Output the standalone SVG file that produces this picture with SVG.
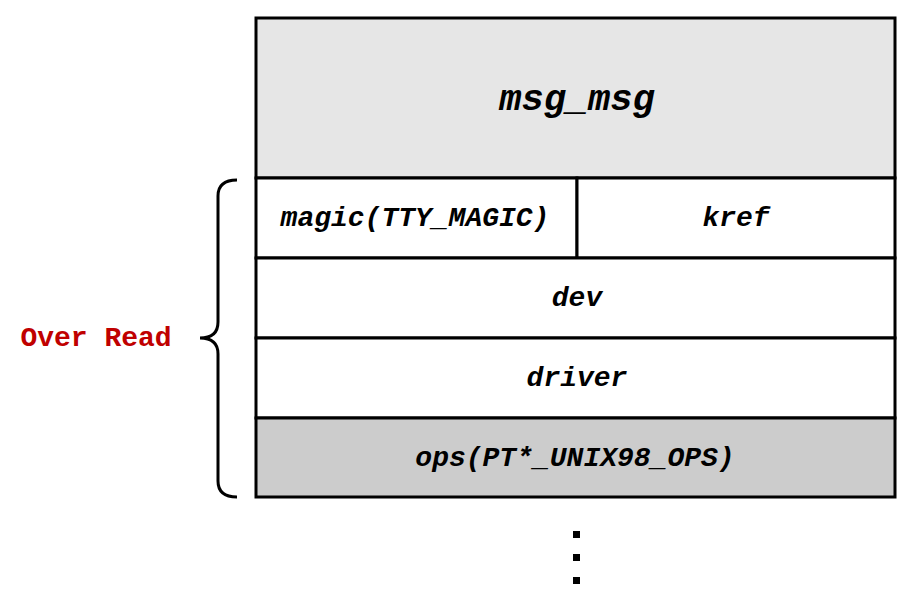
<svg xmlns="http://www.w3.org/2000/svg" width="915" height="608" viewBox="0 0 915 608">
<style>
.box{stroke:#000;stroke-width:3}
.t{font-family:"Liberation Mono","Courier New",monospace;font-weight:bold;font-style:italic;font-size:28px;fill:#000;text-anchor:middle;dominant-baseline:central}
.title{font-size:37px}
.red{fill:#c00000;font-style:normal}
</style>
<rect width="915" height="608" fill="#fff"/>
<g id="msg_msg"><rect class="box" x="256" y="18" width="639" height="160" fill="#e6e6e6"/><text class="t title" x="577" y="100">msg_msg</text></g>
<g id="magic"><rect class="box" x="256" y="178" width="321" height="80" fill="#fff"/><text class="t" x="415" y="218">magic(TTY_MAGIC)</text></g>
<g id="kref"><rect class="box" x="577" y="178" width="318" height="80" fill="#fff"/><text class="t" x="736" y="218">kref</text></g>
<g id="dev"><rect class="box" x="256" y="258" width="639" height="80" fill="#fff"/><text class="t" x="577" y="298">dev</text></g>
<g id="driver"><rect class="box" x="256" y="338" width="639" height="80" fill="#fff"/><text class="t" x="577" y="378">driver</text></g>
<g id="ops"><rect class="box" x="256" y="418" width="639" height="79" fill="#cccccc"/><text class="t" x="575" y="458">ops(PT*_UNIX98_OPS)</text></g>
<g id="overread">
<path d="M237 180 Q218 180 218 196 L218 322 Q218 338 200 338 Q218 338 218 354 L218 481 Q218 497 237 497" fill="none" stroke="#000" stroke-width="3"/>
<text class="t red" x="96" y="338">Over Read</text>
</g>
<g id="dots" fill="#000"><rect x="573" y="531" width="7" height="7"/><rect x="573" y="554" width="7" height="7"/><rect x="573" y="577" width="7" height="7"/></g>
<g id="connectors"/>
</svg>
